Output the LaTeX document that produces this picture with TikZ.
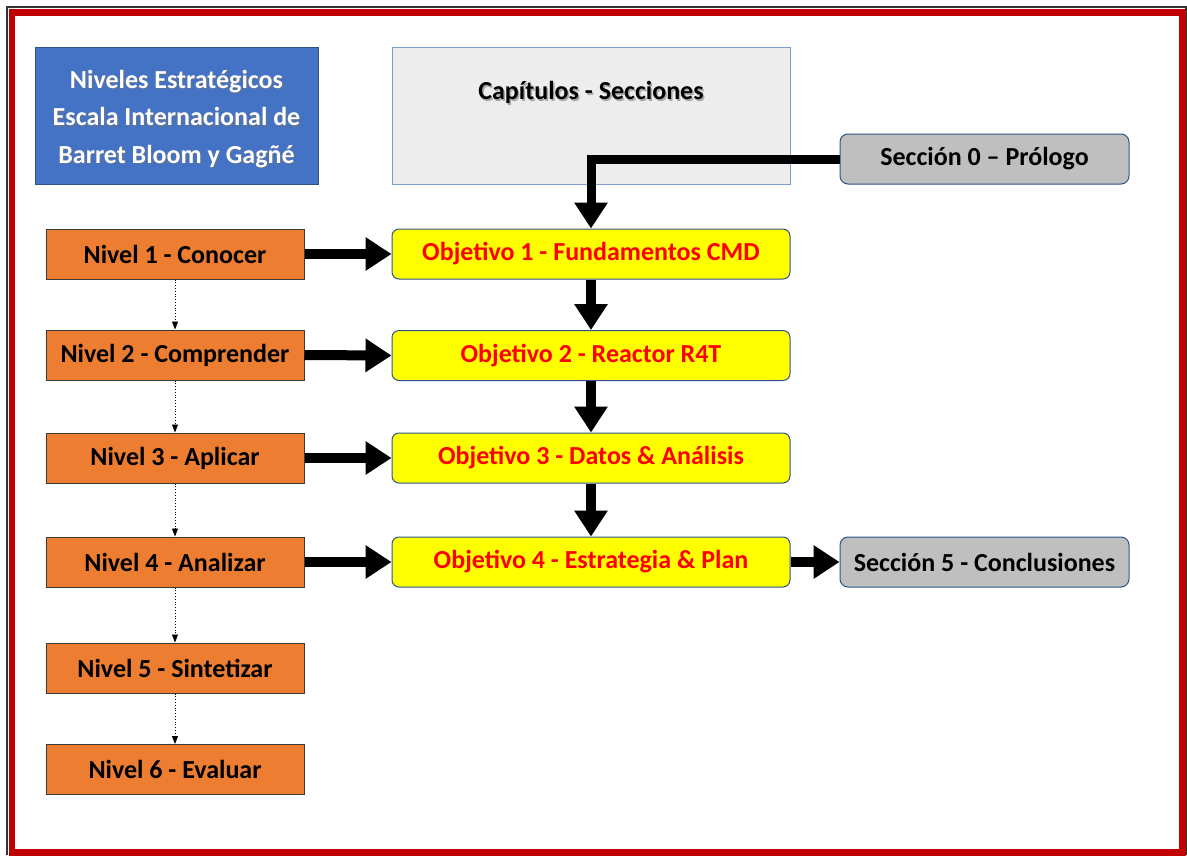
\documentclass[tikz,border=0pt]{standalone}
\usepackage{fontspec}
\setmainfont{Carlito}
\usetikzlibrary{arrows.meta}
\definecolor{frameRed}{HTML}{C00000}
\definecolor{boxBlue}{HTML}{4472C4}
\definecolor{edgeBlue}{HTML}{2F528F}
\definecolor{capFill}{HTML}{EDEDED}
\definecolor{capEdge}{HTML}{7F9BD0}
\definecolor{nivOrange}{HTML}{ED7D31}
\definecolor{nivEdge}{HTML}{3A3A3A}
\definecolor{objYellow}{HTML}{FFFF00}
\definecolor{secGray}{HTML}{BFBFBF}
\begin{document}
\begin{tikzpicture}[x=1pt,y=-1pt,
  every node/.style={inner sep=0pt, font=\fontsize{26}{31}\selectfont\bfseries},
  nivel/.style={draw=nivEdge, line width=1pt, fill=nivOrange, minimum width=258pt, minimum height=50pt},
  objetivo/.style={draw=edgeBlue, line width=1pt, fill=objYellow, rounded corners=7pt,
                   minimum width=398pt, minimum height=50pt, text=red},
  seccion/.style={draw=edgeBlue, line width=1pt, fill=secGray, rounded corners=8pt,
                  minimum width=289pt, minimum height=50pt},
  bigarrow/.style={line width=10pt, -{Triangle[width=32pt,length=26pt]}},
  bigline/.style={line width=9pt},
  steparrow/.style={dotted, line width=0.8pt, -{Triangle[width=6pt,length=8pt]}},
  shadowtext/.style={text=black!55, opacity=0.55}
]
\useasboundingbox (0,0) rectangle (1187,855);
\fill[white] (0,0) rectangle (1187,855);

% frame
\draw[black!80, line width=1.2pt] (7,855) -- (7,7) -- (1186,7) -- (1186,855);
\draw[frameRed, line width=6.5pt] (12,12.5) rectangle (1182.5,852.5);

% header boxes
\node[draw=edgeBlue, line width=1pt, fill=boxBlue, minimum width=283pt, minimum height=137pt] (hdr) at (176.5,115.5) {};
\node[shadowtext, align=center, font=\fontsize{26}{37.5}\selectfont\bfseries] at (178,120.5)
  {Niveles Estratégicos\\Escala Internacional de\\Barret Bloom y Gagñé};
\node[text=white, align=center, font=\fontsize{26}{37.5}\selectfont\bfseries] (hdrtxt) at (176.5,119)
  {Niveles Estratégicos\\Escala Internacional de\\Barret Bloom y Gagñé};

\node[draw=capEdge, line width=1pt, fill=capFill, minimum width=398pt, minimum height=137pt] (cap) at (591,115.5) {};
\node[shadowtext] at (592.5,94) {Capítulos - Secciones};
\node (captxt) at (591,92) {Capítulos - Secciones};

% sections
\node[seccion] (s0) at (984.5,159) {Sección 0 – Prólogo};
\node[seccion] (s5) at (984.5,562) {Sección 5 - Conclusiones};

% levels
\node[nivel] (n1) at (175,254) {Nivel 1 - Conocer};
\node[nivel] (n2) at (175,355) {Nivel 2 - Comprender};
\node[nivel] (n3) at (175,458) {Nivel 3 - Aplicar};
\node[nivel] (n4) at (175,562) {Nivel 4 - Analizar};
\node[nivel] (n5) at (175,668) {Nivel 5 - Sintetizar};
\node[nivel] (n6) at (175,769.5) {Nivel 6 - Evaluar};

% objectives
\node[objetivo] (o1) at (591,254) {Objetivo 1 - Fundamentos CMD};
\node[objetivo] (o2) at (591,355.5) {Objetivo 2 - Reactor R4T};
\node[objetivo] (o3) at (591,458) {Objetivo 3 - Datos \& Análisis};
\node[objetivo] (o4) at (591,562) {Objetivo 4 - Estrategia \& Plan};

% level progression
\draw[steparrow] (n1.south) -- (n2.north);
\draw[steparrow] (n2.south) -- (n3.north);
\draw[steparrow] (n3.south) -- (n4.north);
\draw[steparrow] (n4.south) -- (n5.north);
\draw[steparrow] (n5.south) -- (n6.north);

% level to objective
\draw[bigarrow] (n1.east) -- (o1.west);
\draw[bigarrow] (n2.east) -- (o2.west);
\draw[bigarrow] (n3.east) -- (o3.west);
\draw[bigarrow] (n4.east) -- (o4.west);

% chapter flow
\draw[bigline, -{Triangle[width=32pt,length=26pt]}] (s0.west) -| (o1.north);
\draw[bigarrow] (o1.south) -- (o2.north);
\draw[bigarrow] (o2.south) -- (o3.north);
\draw[bigarrow] (o3.south) -- (o4.north);
\draw[bigarrow] (o4.east) -- (s5.west);
\end{tikzpicture}
\end{document}
